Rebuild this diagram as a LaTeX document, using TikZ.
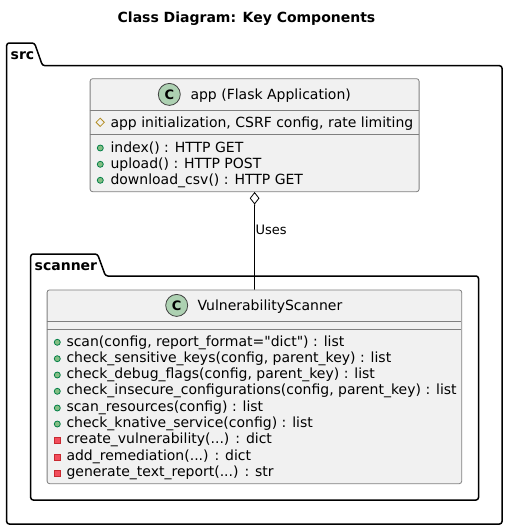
\documentclass[tikz,border=0pt]{standalone}
\usepackage{fontspec}
\setmainfont[Ligatures=TeXOff]{DejaVu Sans}
\usetikzlibrary{shapes.geometric}
\definecolor{boxfill}{HTML}{F1F1F1}
\definecolor{boxline}{HTML}{7F7F7F}
\definecolor{iconfill}{HTML}{ADD1B2}
\definecolor{publine}{HTML}{038048}
\definecolor{pubfill}{HTML}{84BE84}
\definecolor{privline}{HTML}{C82930}
\definecolor{privfill}{HTML}{F24D5C}
\definecolor{protline}{HTML}{B38D22}
\tikzset{
  x=1pt,y=-1pt,
  pkg/.style={draw=black,line width=1.5pt,rounded corners=2.5pt,line join=round},
  pkgtext/.style={font=\fontsize{14}{16}\selectfont\bfseries,anchor=base west,inner sep=0pt},
  classbox/.style={draw=boxline,fill=boxfill,line width=.8pt,rounded corners=2.5pt,inner sep=0pt},
  divider/.style={draw=boxline,line width=.8pt},
  member/.style={font=\fontsize{14}{16}\selectfont,anchor=base west,inner sep=0pt},
  classname/.style={font=\fontsize{14}{16}\selectfont,anchor=base west,inner sep=0pt},
  cicon/.style={circle,draw=black!75,fill=iconfill,line width=.8pt,minimum size=22pt,inner sep=0pt,font=\fontsize{13}{13}\selectfont\bfseries},
  pubdot/.style={circle,draw=publine,fill=pubfill,line width=.8pt,minimum size=6pt,inner sep=0pt},
  privdot/.style={rectangle,draw=privline,fill=privfill,line width=.8pt,minimum size=6pt,inner sep=0pt},
  protdot/.style={diamond,draw=protline,fill=boxfill,line width=.8pt,minimum size=8.5pt,inner sep=0pt},
  aggr/.style={diamond,draw=black,fill=white,line width=.8pt,minimum width=9pt,minimum height=11.5pt,inner sep=0pt},
  link/.style={draw=black,line width=.8pt},
}
\begin{document}
\begin{tikzpicture}
\useasboundingbox (0,0) rectangle (508,530);
\node[font=\fontsize{14}{16}\selectfont\bfseries,anchor=base,inner sep=0pt] (title) at (246.5,23) {Class Diagram: Key Components};
% src package
\draw[pkg] (6.7,65.7) -- (6.7,43) -- (34.5,43) -- (42.5,65.7) -- (502,65.7) -- (502,524) -- (6.7,524) -- cycle;
\node[pkgtext] (srclabel) at (10.5,59) {src};
% scanner package
\draw[pkg] (30.7,276) -- (30.7,254) -- (97.5,254) -- (105.5,276) -- (478.5,276) -- (478.5,500) -- (30.7,500) -- cycle;
\node[pkgtext] (scannerlabel) at (34.5,270) {scanner};
% app class
\node[classbox,minimum width=329pt,minimum height=113pt,anchor=north west] (app) at (89.7,78.3) {};
\draw[divider] (89.7,110.7) -- (418.7,110.7);
\draw[divider] (89.7,134.7) -- (418.7,134.7);
\node[cicon] (appicon) at (169.3,94.4) {C};
\node[classname] (appname) at (190.3,99.3) {app (Flask Application)};
\node[protdot] (appf) at (100.2,122.3) {};
\node[member] (appft) at (110.3,127) {app initialization, CSRF config, rate limiting};
\node[pubdot] (appm1) at (100.3,148) {};
\node[member] (appm1t) at (110.3,152) {index() : HTTP GET};
\node[pubdot] (appm2) at (100.3,164.3) {};
\node[member] (appm2t) at (110.3,168.2) {upload() : HTTP POST};
\node[pubdot] (appm3) at (100.3,180.3) {};
\node[member] (appm3t) at (110.3,184.4) {download\_csv() : HTTP GET};
% scanner class
\node[classbox,minimum width=414.6pt,minimum height=193.8pt,anchor=north west] (vs) at (46.7,289.5) {};
\draw[divider] (46.7,321.3) -- (461.3,321.3);
\draw[divider] (46.7,329.3) -- (461.3,329.3);
\node[cicon] (vsicon) at (176.7,305.4) {C};
\node[classname] (vsname) at (197.3,310.3) {VulnerabilityScanner};
\node[pubdot] at (57.3,342.3) {};
\node[member] at (66.3,346) {scan(config, report\_format="dict") : list};
\node[pubdot] at (57.3,358.7) {};
\node[member] at (66.3,362.3) {check\_sensitive\_keys(config, parent\_key) : list};
\node[pubdot] at (57.3,375) {};
\node[member] at (66.3,378.6) {check\_debug\_flags(config, parent\_key) : list};
\node[pubdot] at (57.3,391.3) {};
\node[member] at (66.3,394.9) {check\_insecure\_configurations(config, parent\_key) : list};
\node[pubdot] at (57.3,408) {};
\node[member] at (66.3,411.2) {scan\_resources(config) : list};
\node[pubdot] at (57.3,424) {};
\node[member] at (66.3,427.5) {check\_knative\_service(config) : list};
\node[privdot] at (57.3,440.3) {};
\node[member] at (66.3,443.8) {create\_vulnerability(...) : dict};
\node[privdot] at (57.3,457) {};
\node[member] at (66.3,460.1) {add\_remediation(...) : dict};
\node[privdot] at (57.3,473) {};
\node[member] at (66.3,476.6) {generate\_text\_report(...) : str};
% connector
\node[aggr,anchor=north] (join) at (app.south) {};
\draw[link] (join.south) -- (vs.north);
\node[font=\fontsize{13}{14}\selectfont,anchor=base west,inner sep=0pt] (uses) at (255.5,234) {Uses};
\end{tikzpicture}
\end{document}
